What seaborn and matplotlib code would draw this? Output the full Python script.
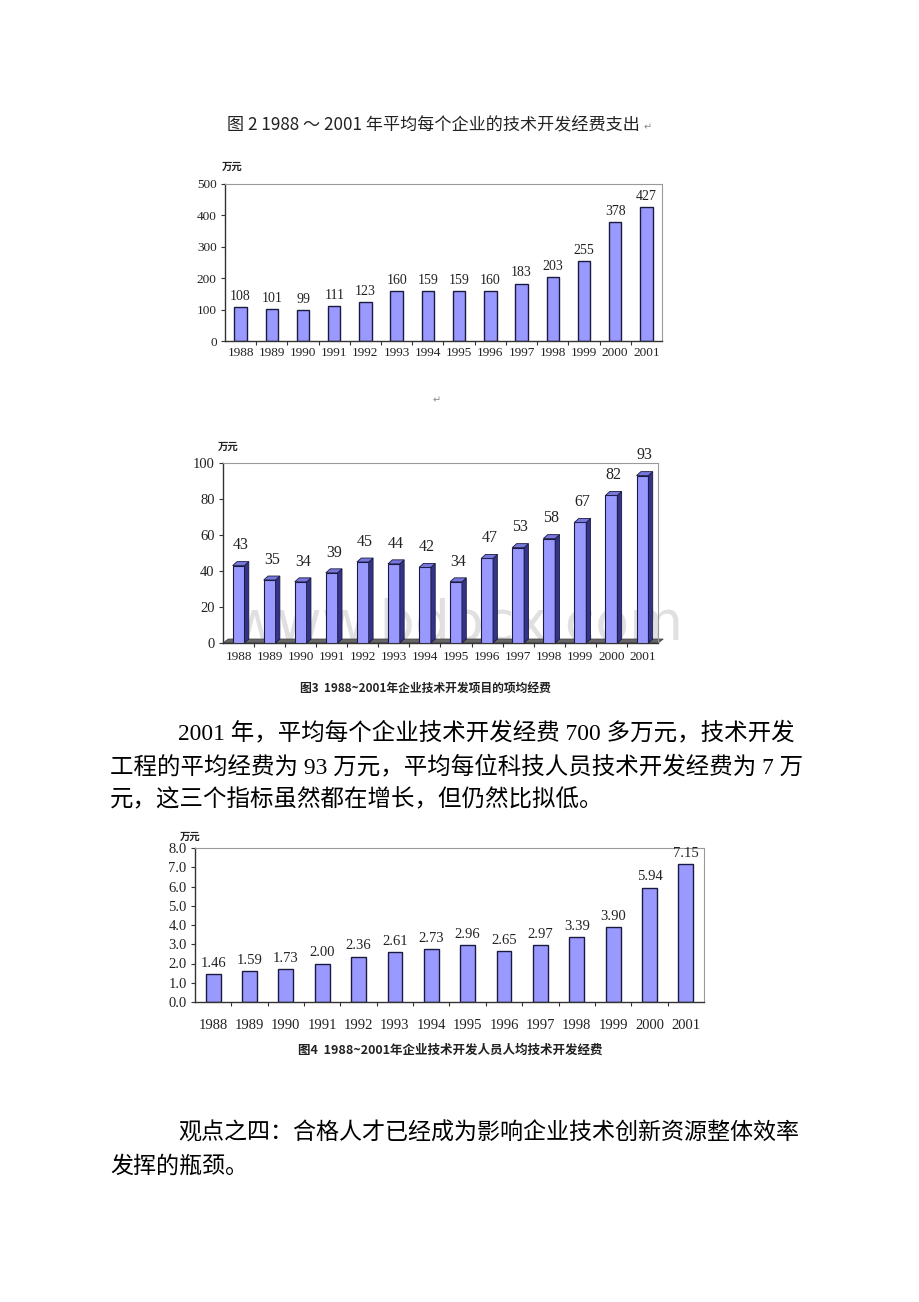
import matplotlib
matplotlib.use('Agg')
import matplotlib.pyplot as plt
import seaborn as sns
import numpy as np
from matplotlib.patches import Polygon

# ---------------- data ----------------
years = [str(y) for y in range(1988, 2002)]
fig2_vals = [108, 101, 99, 111, 123, 160, 159, 159, 160, 183, 203, 255, 378, 427]
fig3_vals = [43, 35, 34, 39, 45, 44, 42, 34, 47, 53, 58, 67, 82, 93]
fig4_vals = [1.46, 1.59, 1.73, 2.00, 2.36, 2.61, 2.73, 2.96, 2.65, 2.97, 3.39, 3.90, 5.94, 7.15]
fig2_yticks = [0, 100, 200, 300, 400, 500]
fig3_yticks = [0, 20, 40, 60, 80, 100]
fig4_yticks = [0, 1, 2, 3, 4, 5, 6, 7, 8]

title2 = "图 2 1988 ～ 2001 年平均每个企业的技术开发经费支出"
caption3 = "图3  1988~2001年企业技术开发项目的项均经费"
caption4 = "图4  1988~2001年企业技术开发人员人均技术开发经费"
unit = "万元"
para1 = ["2001 年，平均每个企业技术开发经费 700 多万元，技术开发",
         "工程的平均经费为 93 万元，平均每位科技人员技术开发经费为 7 万",
         "元，这三个指标虽然都在增长，但仍然比拟低。"]
para2 = ["观点之四：合格人才已经成为影响企业技术创新资源整体效率",
         "发挥的瓶颈。"]
watermark = "www.bdocx.com"

# ---------------- style ----------------
sns.set_theme(style='white')
plt.rcParams['font.family'] = ['Liberation Serif', 'Noto Sans CJK SC', 'DejaVu Sans']

W, H = 920, 1302
fig = plt.figure(figsize=(W / 100, H / 100), dpi=100)
fig.patch.set_facecolor('white')

SERIF = ['Liberation Serif', 'Noto Sans CJK SC']
CJK = ['Noto Sans CJK SC', 'DejaVu Sans']
BAR = '#9999ff'
EDGE = '#1a1a40'
TXT = '#222222'


def ax_px(l, t, r, b):
    return fig.add_axes([l / W, 1 - b / H, (r - l) / W, (b - t) / H])


def ftext(x, y, s, **kw):
    return fig.text(x / W, 1 - y / H, s, **kw)


def style_axes(ax, ylim, yticks, ylabels, xpad, yfs, xfs):
    ax.set_xlim(-0.5, 13.5)
    ax.set_ylim(*ylim)
    ax.set_yticks(yticks)
    ax.set_yticklabels(ylabels, family=SERIF, fontsize=yfs, color=TXT)
    ax.set_xticks(range(len(years)))
    ax.set_xticklabels(years, family=SERIF, fontsize=xfs, color=TXT)
    ax.set_xticks(np.arange(0.5, 13, 1), minor=True)
    ax.set_xlabel('')
    ax.set_ylabel('')
    ax.tick_params(axis='y', left=True, length=3, width=0.8, pad=3, color='#333333')
    ax.tick_params(axis='x', which='major', bottom=True, length=0, pad=xpad)
    ax.tick_params(axis='x', which='minor', bottom=True, length=3, width=0.8, color='#333333')
    for s in ['left', 'bottom']:
        ax.spines[s].set_color('#333333')
        ax.spines[s].set_linewidth(1.0)
    for s in ['top', 'right']:
        ax.spines[s].set_color('#9a9a9a')
        ax.spines[s].set_linewidth(0.8)
    ax.grid(False)


# ---------------- chart 1 (Fig 2) ----------------
ftext(433, 125, title2, family=CJK, fontsize=12.3, color=TXT, ha='center', va='center')
ftext(648, 127, "↵", family=['DejaVu Sans'], fontsize=7, color='#888888', ha='center', va='center')
ftext(232, 167, unit, family=CJK, fontsize=7.5, weight='bold', color=TXT, ha='center', va='center')

ax1 = ax_px(225, 184, 662, 341)
sns.barplot(x=years, y=fig2_vals, color=BAR, saturation=1, edgecolor=EDGE,
            linewidth=1.0, width=0.4, ax=ax1)
style_axes(ax1, (0, 500), fig2_yticks, [str(v) for v in fig2_yticks], 4, 9.5, 9.5)
ax1.bar_label(ax1.containers[0], labels=[str(v) for v in fig2_vals], padding=3,
              family=SERIF, fontsize=10, color=TXT)

ftext(437, 400, "↵", family=['DejaVu Sans'], fontsize=7, color='#888888', ha='center', va='center')

# ---------------- chart 2 (Fig 3, pseudo 3D) ----------------
ftext(228, 447, unit, family=CJK, fontsize=7.5, weight='bold', color=TXT, ha='center', va='center')
ax2 = ax_px(223, 463, 658, 643)
ax2.text(0.54, 0.1, watermark, transform=ax2.transAxes, fontsize=40, color='#e0e0e0',
         ha='center', va='center', family=['DejaVu Sans'], zorder=0.5, clip_on=False)
sns.barplot(x=years, y=fig3_vals, color=BAR, saturation=1, edgecolor=EDGE,
            linewidth=0.8, width=0.38, ax=ax2, zorder=3)
style_axes(ax2, (0, 100), fig3_yticks, [str(v) for v in fig3_yticks], 6, 10.5, 9.5)
dx, dy = 0.14, 2.2
for p, v in zip(ax2.patches, fig3_vals):
    x0, w, h = p.get_x(), p.get_width(), p.get_height()
    side = Polygon([(x0 + w, 0), (x0 + w + dx, dy), (x0 + w + dx, h + dy), (x0 + w, h)],
                   closed=True, facecolor='#333388', edgecolor=EDGE, linewidth=0.6, zorder=3)
    top = Polygon([(x0, h), (x0 + dx, h + dy), (x0 + w + dx, h + dy), (x0 + w, h)],
                  closed=True, facecolor='#7777dd', edgecolor=EDGE, linewidth=0.6, zorder=3)
    ax2.add_patch(side)
    ax2.add_patch(top)
    ax2.annotate(str(v), (x0 + w / 2 + dx / 2, h + dy), xytext=(0, 6), textcoords='offset points',
                 ha='center', va='bottom', family=SERIF, fontsize=11.5, color=TXT)
floor = Polygon([(0, 0), (0.012, 0.022), (1.012, 0.022), (1.0, 0)], closed=True,
                transform=ax2.transAxes, facecolor='#666666', edgecolor='#444444',
                linewidth=0.6, zorder=2, clip_on=False)
ax2.add_patch(floor)
ftext(425, 688, caption3, family=CJK, fontsize=8.5, weight='bold', color=TXT, ha='center', va='center')

# ---------------- paragraph 1 ----------------
PFS = 16.9
ftext(178, 733, para1[0], family=SERIF, fontsize=PFS, color='black', ha='left', va='center')
ftext(110, 767, para1[1], family=SERIF, fontsize=PFS, color='black', ha='left', va='center')
ftext(110, 800, para1[2], family=SERIF, fontsize=PFS, color='black', ha='left', va='center')

# ---------------- chart 3 (Fig 4) ----------------
ftext(190, 837, unit, family=CJK, fontsize=7.5, weight='bold', color=TXT, ha='center', va='center')
ax3 = ax_px(195, 848, 704, 1002)
sns.barplot(x=years, y=fig4_vals, color=BAR, saturation=1, edgecolor=EDGE,
            linewidth=1.0, width=0.41, ax=ax3)
style_axes(ax3, (0, 8), fig4_yticks, ['%.1f' % v for v in fig4_yticks], 12, 10.5, 10.5)
ax3.bar_label(ax3.containers[0], labels=['%.2f' % v for v in fig4_vals], padding=3,
              family=SERIF, fontsize=10.5, color=TXT)
ftext(450, 1050, caption4, family=CJK, fontsize=9, weight='bold', color=TXT, ha='center', va='center')

# ---------------- paragraph 2 ----------------
ftext(178, 1133, para2[0], family=SERIF, fontsize=16.6, color='black', ha='left', va='center')
ftext(110, 1167, para2[1], family=SERIF, fontsize=16.6, color='black', ha='left', va='center')

fig.savefig('out.png', dpi=100, facecolor='white')
